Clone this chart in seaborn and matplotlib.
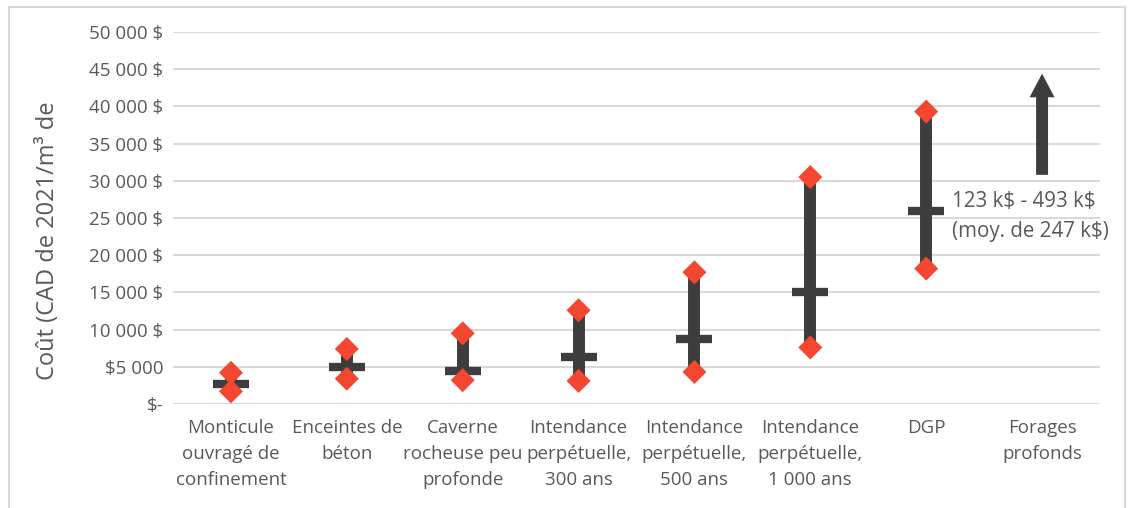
import matplotlib
matplotlib.use("Agg")
import matplotlib.pyplot as plt
import seaborn as sns
import pandas as pd
from matplotlib.lines import Line2D

categories = [
    "Monticule\nouvragé de\nconfinement",
    "Enceintes de\nbéton",
    "Caverne\nrocheuse peu\nprofonde",
    "Intendance\nperpétuelle,\n300 ans",
    "Intendance\nperpétuelle,\n500 ans",
    "Intendance\nperpétuelle,\n1 000 ans",
    "DGP",
    "Forages\nprofonds",
]
low_vals = [1700, 3400, 3200, 3100, 4300, 7600, 18200]
high_vals = [4200, 7400, 9500, 12600, 17700, 30500, 39300]
mean_vals = [2700, 5000, 4500, 6300, 8800, 15100, 26000]
arrow_start = 30800
arrow_end = 44400
yticks = [0, 5000, 10000, 15000, 20000, 25000, 30000, 35000, 40000, 45000, 50000]
ytick_labels = ["$-", "$5 000", "10 000 $", "15 000 $", "20 000 $", "25 000 $",
                "30 000 $", "35 000 $", "40 000 $", "45 000 $", "50 000 $"]
ylabel = "Coût (CAD de 2021/m³ de"
note = "123 k$ - 493 k$\n(moy. de 247 k$)"

sns.set_theme(style="white")
plt.rcParams["font.family"] = ["Open Sans", "DejaVu Sans"]

DARK = "#3d3d3d"
RED = "#f4472f"
GREY = "#595959"
GRID = "#d9d9d9"

fig = plt.figure(figsize=(11.28, 5.08), dpi=100)
ax = fig.add_axes([173 / 1128, 1 - 404 / 508, (1100 - 173) / 1128, (404 - 32) / 508])

n = len(low_vals)
xs = list(range(n))
ax.vlines(xs, low_vals, high_vals, color=DARK, linewidth=8.6, zorder=3)
ax.hlines(mean_vals, [x - 0.155 for x in xs], [x + 0.155 for x in xs],
          color=DARK, linewidth=6, zorder=4)

pts = pd.DataFrame({
    "x": xs + xs,
    "y": low_vals + high_vals,
})
sns.scatterplot(data=pts, x="x", y="y", ax=ax, marker="D", s=150, color=RED,
                edgecolor="none", linewidth=0, zorder=5)

ax.annotate("", xy=(7, arrow_end), xytext=(7, arrow_start),
            arrowprops=dict(arrowstyle="simple,head_length=1.7,head_width=1.8,tail_width=0.86",
                            mutation_scale=10, color=DARK, shrinkA=0, shrinkB=0, lw=0),
            zorder=4)

ax.text(6.22, 25200, note, ha="left", va="center", fontsize=14.8, color=GREY,
        linespacing=1.6, zorder=6, parse_math=False)

ax.set_xlim(-0.5, n + 0.5)
ax.set_ylim(0, 50000)
ax.set_yticks(yticks)
ax.set_yticklabels(ytick_labels)
ax.set_xticks(range(len(categories)))
ax.set_xticklabels(categories, linespacing=1.55)
ax.tick_params(axis="y", length=0, pad=7, labelsize=13.5, labelcolor=GREY)
ax.tick_params(axis="x", length=0, pad=11, labelsize=13.5, labelcolor=GREY)
ax.yaxis.grid(True, color=GRID, linewidth=1.5)
ax.set_axisbelow(True)
for s in ax.spines.values():
    s.set_visible(False)
ax.set_xlabel("")
ax.set_ylabel(ylabel, fontsize=17, color=GREY)
ax.yaxis.set_label_coords(-0.122, 0.44)

# outer frame
for (x0, y0, x1, y1) in [(9, 508, 9, 7), (9, 7, 1125, 7), (1125, 7, 1125, 508)]:
    fig.add_artist(Line2D([x0 / 1128, x1 / 1128], [1 - y0 / 508, 1 - y1 / 508],
                          transform=fig.transFigure, color=GRID, linewidth=1.5))

fig.savefig("out.png", dpi=100)
